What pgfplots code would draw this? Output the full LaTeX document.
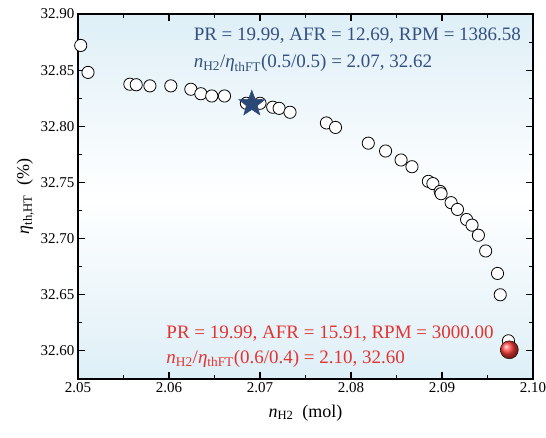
\documentclass[border=0pt]{standalone}
\usepackage{fontspec}
\setmainfont{Liberation Serif}
\usepackage{pgfplots}
\pgfplotsset{compat=1.18}

\definecolor{bgblue}{RGB}{222,239,247}
\definecolor{starblue}{RGB}{44,72,118}
\definecolor{txtblue}{RGB}{52,80,128}
\definecolor{txtred}{RGB}{226,52,50}
\definecolor{ballred}{RGB}{255,60,55}

% filled five-pointed star
\pgfdeclareplotmark{fstar}{%
  \pgfpathmoveto{\pgfpointpolar{90}{\pgfplotmarksize}}%
  \pgfpathlineto{\pgfpointpolar{126}{0.42\pgfplotmarksize}}%
  \pgfpathlineto{\pgfpointpolar{162}{\pgfplotmarksize}}%
  \pgfpathlineto{\pgfpointpolar{198}{0.42\pgfplotmarksize}}%
  \pgfpathlineto{\pgfpointpolar{234}{\pgfplotmarksize}}%
  \pgfpathlineto{\pgfpointpolar{270}{0.42\pgfplotmarksize}}%
  \pgfpathlineto{\pgfpointpolar{306}{\pgfplotmarksize}}%
  \pgfpathlineto{\pgfpointpolar{342}{0.42\pgfplotmarksize}}%
  \pgfpathlineto{\pgfpointpolar{18}{\pgfplotmarksize}}%
  \pgfpathlineto{\pgfpointpolar{54}{0.42\pgfplotmarksize}}%
  \pgfpathclose
  \pgfusepathqfillstroke}

\begin{document}
\begin{tikzpicture}
\begin{axis}[
    scale only axis, width=455pt, height=365pt,
    xmin=2.05, xmax=2.10, ymin=32.575, ymax=32.90,
    xtick={2.05,2.06,2.07,2.08,2.09,2.10},
    ytick={32.60,32.65,32.70,32.75,32.80,32.85,32.90},
    minor x tick num=1, minor y tick num=1,
    tick align=inside, major tick length=7pt, minor tick length=4pt,
    axis line style={line width=1.2pt},
    every tick/.style={black, line width=1.1pt},
    xticklabel style={/pgf/number format/.cd, fixed, fixed zerofill, precision=2},
    yticklabel style={/pgf/number format/.cd, fixed, fixed zerofill, precision=2},
    /pgf/number format/assume math mode=true,
    ticklabel style={font=\fontsize{15}{17}\selectfont},
    xlabel={\textit{n}\textsubscript{H2}\ \ (mol)},
    ylabel={\textit{η}\textsubscript{th,HT}\ \ (\%)},
    label style={font=\fontsize{18}{20}\selectfont},
    xlabel style={at={(axis description cs:0.5,-0.093)}, anchor=center},
    ylabel style={at={(axis description cs:-0.116,0.5)}, anchor=center},
    axis background/.style={top color=bgblue, bottom color=bgblue, middle color=white},
    clip=false,
]
\addplot[only marks, mark=*, mark size=6.1pt,
    mark options={fill=white, draw=black, line width=0.8pt}] coordinates {
  (2.0503,32.872) (2.0511,32.848) (2.0557,32.8375) (2.0564,32.837)
  (2.0579,32.836) (2.0602,32.836) (2.0624,32.833) (2.0635,32.829)
  (2.0647,32.827) (2.0661,32.827) (2.0685,32.8205) (2.0700,32.8205)
  (2.0714,32.817) (2.0721,32.816) (2.0733,32.8125) (2.0773,32.803)
  (2.0783,32.799) (2.0819,32.785) (2.0838,32.778) (2.0855,32.770)
  (2.0867,32.764) (2.0885,32.751) (2.0890,32.749) (2.0898,32.742)
  (2.0899,32.740) (2.0910,32.732) (2.0917,32.726) (2.0927,32.717)
  (2.0933,32.712) (2.0940,32.703) (2.0948,32.689) (2.0961,32.669)
  (2.0964,32.650) (2.0973,32.609)
};
\addplot[only marks, mark=fstar, mark size=13.5pt,
    mark options={fill=starblue, draw=starblue, line width=0.6pt}] coordinates {(2.0691,32.820)};
\addplot[only marks, mark=ball, mark size=9pt,
    mark options={ball color=ballred}] coordinates {(2.0974,32.601)};
\node[anchor=base west, text=txtblue, font=\fontsize{19}{21}\selectfont, inner sep=0pt]
  at (axis cs:2.0627,32.876) {PR = 19.99, AFR = 12.69, RPM = 1386.58};
\node[anchor=base west, text=txtblue, font=\fontsize{19}{21}\selectfont, inner sep=0pt]
  at (axis cs:2.0627,32.852) {\textit{n}\textsubscript{H2}/\textit{η}\textsubscript{thFT}(0.5/0.5) = 2.07, 32.62};
\node[anchor=base west, text=txtred, font=\fontsize{19}{21}\selectfont, inner sep=0pt]
  at (axis cs:2.0597,32.611) {PR = 19.99, AFR = 15.91, RPM = 3000.00};
\node[anchor=base west, text=txtred, font=\fontsize{19}{21}\selectfont, inner sep=0pt]
  at (axis cs:2.0597,32.589) {\textit{n}\textsubscript{H2}/\textit{η}\textsubscript{thFT}(0.6/0.4) = 2.10, 32.60};
\end{axis}
\pgfresetboundingbox
\path ([shift={(-78pt,-58pt)}]current axis.south west) rectangle ([shift={(13pt,14pt)}]current axis.north east);
\end{tikzpicture}
\end{document}
